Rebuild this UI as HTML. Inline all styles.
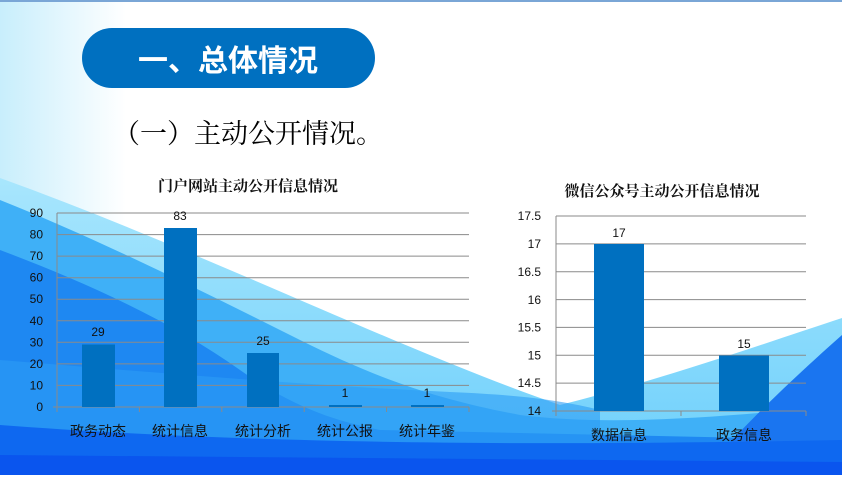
<!DOCTYPE html>
<html><head><meta charset="utf-8"><style>
body{margin:0;width:842px;height:475px;overflow:hidden;font-family:"Liberation Sans","Noto Sans CJK SC",sans-serif;}
</style></head><body>
<svg width="842" height="475" viewBox="0 0 842 475" xmlns="http://www.w3.org/2000/svg" font-family="Liberation Sans, Noto Sans CJK SC, sans-serif">
<defs>
<linearGradient id="bgL" x1="0" y1="0" x2="1" y2="0"><stop offset="0" stop-color="#c8eefc"/><stop offset="0.15" stop-color="#ffffff"/></linearGradient>
<linearGradient id="w1" x1="0" y1="0" x2="0" y2="1"><stop offset="0" stop-color="#a8e6fd"/><stop offset="1" stop-color="#6ccffb"/></linearGradient>
</defs>
<rect width="842" height="475" fill="url(#bgL)"/>
<rect width="842" height="2" fill="#7aa6d6"/>
<!-- light wave -->
<path d="M0 178 C200 250 400 350 560 405 C660 380 760 345 842 318 L842 475 L0 475Z" fill="url(#w1)"/>
<!-- mid waves -->
<path d="M0 200 C100 240 200 290 300 340 C380 380 440 400 520 415 C600 425 700 420 842 405 L842 475 L0 475Z" fill="#3fb0f7"/>
<path d="M0 250 C80 280 170 320 240 370 C290 405 330 420 380 430 L842 440 L842 475 L0 475Z" fill="#1e88f2"/>
<path d="M0 360 C150 372 300 385 450 392 C520 395 560 400 600 410 L600 475 L0 475Z" fill="#2c9cf5" opacity="0.6"/>
<path d="M842 335 C780 390 740 430 700 475 L842 475Z" fill="#1a75f0"/>
<path d="M0 425 C200 440 450 448 842 440 L842 475 L0 475Z" fill="#0e68f0"/>
<path d="M0 455 L842 462 L842 475 L0 475Z" fill="#0a55ee"/>
<!-- header pill -->
<rect x="82" y="28" width="293" height="60" rx="30" fill="#0070c0"/>
<text x="228" y="71" font-size="30" font-weight="bold" fill="#fff" text-anchor="middle">一、总体情况</text>
<text x="113" y="143" font-size="27" fill="#000" font-family="Liberation Serif, Noto Serif CJK SC, serif">（一）主动公开情况。</text>
<!-- left chart -->
<text x="248" y="191" font-size="15" font-weight="bold" fill="#111" text-anchor="middle" font-family="Liberation Serif, Noto Serif CJK SC, serif">门户网站主动公开信息情况</text>
<g stroke="#8a8a8a" stroke-width="1">
<line x1="57" y1="213" x2="469" y2="213"/><line x1="57" y1="234.6" x2="469" y2="234.6"/><line x1="57" y1="256.1" x2="469" y2="256.1"/><line x1="57" y1="277.7" x2="469" y2="277.7"/><line x1="57" y1="299.2" x2="469" y2="299.2"/><line x1="57" y1="320.8" x2="469" y2="320.8"/><line x1="57" y1="342.3" x2="469" y2="342.3"/><line x1="57" y1="363.9" x2="469" y2="363.9"/><line x1="57" y1="385.4" x2="469" y2="385.4"/><line x1="53" y1="407" x2="469" y2="407"/>
<line x1="57" y1="213" x2="57" y2="412"/>
<line x1="139.4" y1="407" x2="139.4" y2="412"/><line x1="221.8" y1="407" x2="221.8" y2="412"/><line x1="304.2" y1="407" x2="304.2" y2="412"/><line x1="386.6" y1="407" x2="386.6" y2="412"/><line x1="469" y1="407" x2="469" y2="412"/>
</g>
<g fill="#0070c0">
<rect x="82" y="344.5" width="33" height="62.5"/>
<rect x="164" y="228" width="33" height="179"/>
<rect x="247" y="353" width="32" height="54"/>
<rect x="329" y="405" width="33" height="2"/>
<rect x="411" y="405" width="33" height="2"/>
</g>
<g font-size="12" fill="#111" text-anchor="end">
<text x="43" y="217">90</text><text x="43" y="238.6">80</text><text x="43" y="260">70</text><text x="43" y="281.7">60</text><text x="43" y="303.2">50</text><text x="43" y="324.8">40</text><text x="43" y="346.3">30</text><text x="43" y="367.9">20</text><text x="43" y="389.4">10</text><text x="43" y="411">0</text>
</g>
<g font-size="12" fill="#111" text-anchor="middle">
<text x="98" y="336">29</text><text x="180" y="220">83</text><text x="263" y="345">25</text><text x="345" y="397">1</text><text x="427" y="397">1</text>
</g>
<g font-size="14" fill="#111" text-anchor="middle">
<text x="98" y="436">政务动态</text><text x="180" y="436">统计信息</text><text x="263" y="436">统计分析</text><text x="345" y="436">统计公报</text><text x="427" y="436">统计年鉴</text>
</g>
<!-- right chart -->
<text x="662" y="196" font-size="15" font-weight="bold" fill="#111" text-anchor="middle" font-family="Liberation Serif, Noto Serif CJK SC, serif">微信公众号主动公开信息情况</text>
<g stroke="#8a8a8a" stroke-width="1">
<line x1="556" y1="216" x2="806" y2="216"/><line x1="556" y1="243.9" x2="806" y2="243.9"/><line x1="556" y1="271.7" x2="806" y2="271.7"/><line x1="556" y1="299.6" x2="806" y2="299.6"/><line x1="556" y1="327.4" x2="806" y2="327.4"/><line x1="556" y1="355.3" x2="806" y2="355.3"/><line x1="556" y1="383.1" x2="806" y2="383.1"/><line x1="552" y1="411" x2="806" y2="411"/>
<line x1="556" y1="216" x2="556" y2="416"/>
<line x1="681" y1="411" x2="681" y2="416"/><line x1="806" y1="411" x2="806" y2="416"/>
</g>
<g fill="#0070c0">
<rect x="594" y="244" width="50" height="167"/>
<rect x="719" y="355.5" width="50" height="55.5"/>
</g>
<g font-size="12" fill="#111" text-anchor="end">
<text x="541" y="220">17.5</text><text x="541" y="248">17</text><text x="541" y="276">16.5</text><text x="541" y="304">16</text><text x="541" y="331.5">15.5</text><text x="541" y="359.5">15</text><text x="541" y="387">14.5</text><text x="541" y="415">14</text>
</g>
<g font-size="12" fill="#111" text-anchor="middle">
<text x="619" y="237">17</text><text x="744" y="348">15</text>
</g>
<g font-size="14" fill="#111" text-anchor="middle">
<text x="619" y="440">数据信息</text><text x="744" y="440">政务信息</text>
</g>
</svg>
</body></html>
